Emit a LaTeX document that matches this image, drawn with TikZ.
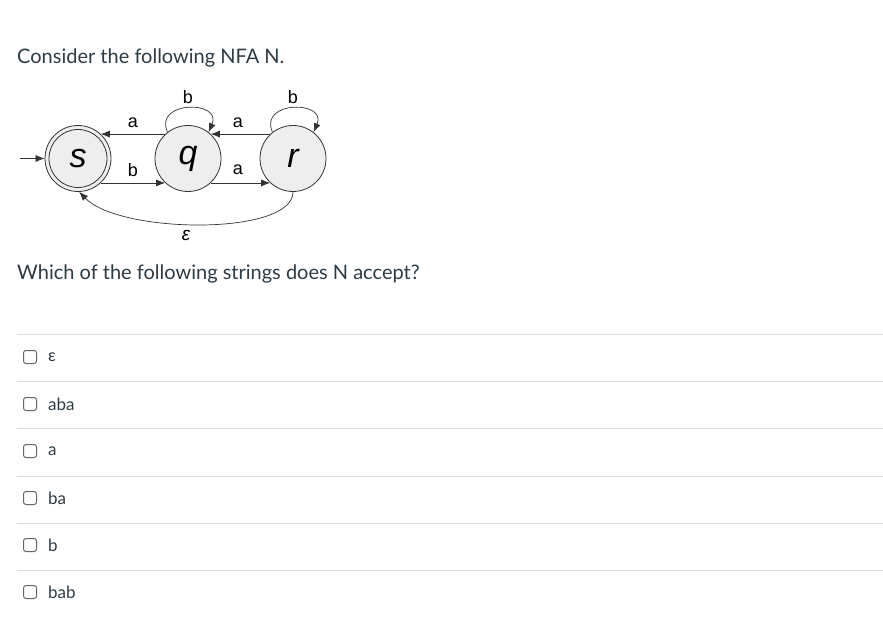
\documentclass[tikz,border=0pt]{standalone}
\usepackage{fontspec}
\setmainfont{Lato}
\newfontfamily\arialf{Liberation Sans}
\usetikzlibrary{arrows.meta}
\definecolor{txt}{HTML}{2D3B45}
\definecolor{rule}{HTML}{DDDDDD}
\definecolor{statefill}{HTML}{EEEEEE}
\definecolor{edgec}{HTML}{333333}
\tikzset{
  state/.style={circle, draw=edgec, fill=statefill, line width=0.8pt, minimum size=66pt, inner sep=0pt, font=\arialf\itshape\fontsize{34}{34}\selectfont},
  edgelbl/.style={font=\arialf\fontsize{18}{18}\selectfont, text=black, inner sep=0pt},
  trans/.style={draw=edgec, line width=0.7pt, -{Latex[length=9pt,width=7pt]}},
  bodytxt/.style={font=\fontsize{20}{24}\selectfont, text=txt, anchor=west, inner sep=0pt},
  opttxt/.style={font=\fontsize{17}{20}\selectfont, text=txt, anchor=west, inner sep=0pt},
  box/.style={draw=gray!80!black, rounded corners=2.5pt, line width=1pt, minimum size=13pt, inner sep=0pt},
  sep/.style={draw=rule, line width=1pt}
}
\begin{document}
\begin{tikzpicture}[x=1pt,y=-1pt]
\useasboundingbox (0,0) rectangle (883,628);
\fill[white] (0,0) rectangle (883,628);

\node[bodytxt] (title) at (17,58) {Consider the following NFA N.};
\node[bodytxt] (question) at (17,274) {Which of the following strings does N accept?};

% NFA
\node[state] (s) at (78,158.5) {s};
\node[circle, draw=edgec, line width=0.8pt, minimum size=58pt, inner sep=0pt] (sin) at (78,158.5) {};
\node[state] (q) at (188,158.5) {q};
\node[state] (r) at (293,158.5) {r};

\coordinate (init) at (20,158.5);
\draw[trans] (init) -- (s.west);

\draw[trans] (q.133) -- (s.47);
\draw[trans] (s.-47) -- (q.-133);
\draw[trans] (q.-47) -- (r.-133);
\draw[trans] (r.133) -- (q.47);

\node[edgelbl] (l1) at (133,123) {a};
\node[edgelbl] (l2) at (133,170) {b};
\node[edgelbl] (l3) at (238,123) {a};
\node[edgelbl] (l4) at (238,170) {a};

\draw[trans] (q.128) .. controls +(-14,-32) and +(14,-32) .. (q.52);
\draw[trans] (r.128) .. controls +(-14,-32) and +(14,-32) .. (r.52);
\node[edgelbl] (l5) at (188,97) {b};
\node[edgelbl] (l6) at (293,97) {b};

\draw[trans] (r.south) .. controls (293,236) and (120,234) .. (s.272);
\node[edgelbl, font=\arialf\itshape\fontsize{19}{19}\selectfont] (l7) at (186,235) {ε};

% options
\foreach \i/\yy in {0/334,1/381,2/428,3/476,4/523,5/570}{
  \coordinate (a\i) at (17,\yy);
  \coordinate (b\i) at (883,\yy);
  \draw[sep] (a\i) -- (b\i);
}
\foreach \i/\yy/\t in {1/357/ε,2/404/aba,3/451/a,4/498/ba,5/545/b,6/592/bab}{
  \node[box] (c\i) at (30,\yy) {};
  \node[opttxt] (t\i) at (48,\yy) {\t};
}
\end{tikzpicture}
\end{document}
